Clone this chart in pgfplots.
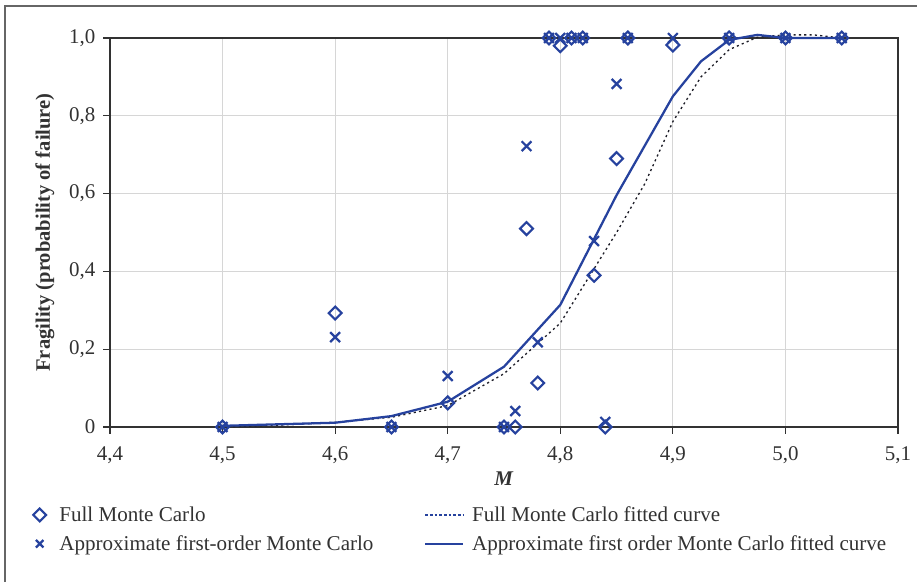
\documentclass[border=0pt]{standalone}
\usepackage{fontspec}
\setmainfont{Liberation Serif}
\usepackage{pgfplots}
\pgfplotsset{compat=1.18}

\definecolor{mcblue}{RGB}{38,66,158}
\definecolor{gridgray}{RGB}{214,214,214}
\definecolor{axisgray}{RGB}{50,50,50}
\definecolor{textgray}{RGB}{50,50,50}
\definecolor{fitdark}{RGB}{30,30,40}

% legend samples: a short line for the fitted curves, a single padded mark for the estimates
\pgfplotsset{
  fitline legend/.style={
    legend image code/.code={\draw[##1] (0pt,0pt) -- (28.5pt,0pt);}},
  mark legend/.style={
    legend image code/.code={\draw[##1, draw=none] plot coordinates {(0pt,0pt)};
      \path[draw=none, fill=none] (0pt,0pt) -- (9pt,0pt);}},
  diamondmark/.style={mark=square, mark size=3.4pt, mark options={rotate=45}},
}

% Full Monte Carlo estimates
\pgfplotstableread{
M p
4.50 0
4.60 0.293
4.65 0
4.70 0.062
4.75 0
4.76 0
4.77 0.510
4.78 0.113
4.79 1.0
4.80 0.980
4.81 1.0
4.82 1.0
4.83 0.390
4.84 0
4.85 0.690
4.86 1.0
4.90 0.982
4.95 1.0
5.00 1.0
5.05 1.0
}\fullmc

% Approximate first-order Monte Carlo estimates
\pgfplotstableread{
M p
4.50 0
4.60 0.231
4.65 0
4.70 0.131
4.75 0
4.76 0.041
4.77 0.722
4.78 0.218
4.79 1.0
4.80 1.0
4.81 1.0
4.82 1.0
4.83 0.478
4.84 0.013
4.85 0.882
4.86 1.0
4.90 1.0
4.95 1.0
5.00 1.0
5.05 1.0
}\approxmc

% Fitted curve, full Monte Carlo
\pgfplotstableread{
M p
4.50 0.000
4.55 0.005
4.60 0.012
4.65 0.025
4.70 0.055
4.75 0.137
4.80 0.267
4.85 0.500
4.875 0.625
4.90 0.785
4.925 0.900
4.95 0.970
4.975 1.002
5.00 1.008
5.025 1.008
5.05 1.000
}\fullfit

% Fitted curve, approximate first-order Monte Carlo
\pgfplotstableread{
M p
4.50 0.003
4.55 0.007
4.60 0.011
4.65 0.028
4.70 0.065
4.75 0.155
4.80 0.314
4.85 0.596
4.90 0.850
4.925 0.940
4.95 0.995
4.975 1.008
5.00 1.000
5.05 1.000
}\approxfit

\begin{document}
\begin{tikzpicture}
\path[use as bounding box] (0pt,0pt) rectangle (687.75pt,436.5pt);
\draw[gray!80!black, line width=1pt] (3.75pt,0pt) -- (3.75pt,432pt) -- (687.75pt,432pt);
\begin{axis}[
  at={(82.5pt,116.25pt)}, anchor=south west,
  scale only axis, width=591pt, height=291.75pt,
  xmin=4.4, xmax=5.1, ymin=0, ymax=1,
  xtick={4.4,4.5,4.6,4.7,4.8,4.9,5.0,5.1},
  xticklabels={{4,4},{4,5},{4,6},{4,7},{4,8},{4,9},{5,0},{5,1}},
  ytick={0,0.2,0.4,0.6,0.8,1},
  yticklabels={{0},{0,2},{0,4},{0,6},{0,8},{1,0}},
  xtick pos=bottom, ytick pos=left, tick align=outside,
  major tick length=5pt,
  grid=major, major grid style={gridgray, line width=0.8pt},
  axis line style={axisgray, line width=0.9pt},
  tick style={axisgray, line width=0.9pt},
  ticklabel style={font=\fontsize{15.7}{18}\selectfont, text=textgray},
  xticklabel style={yshift=-6pt},
  yticklabel style={xshift=-2.5pt},
  xlabel={\textbf{\textit{M}}},
  xlabel style={at={(axis description cs:0.5,-0.134)}, anchor=center,
    font=\fontsize{15.7}{18}\selectfont, text=textgray},
  ylabel={\textbf{Fragility (probability of failure)}},
  ylabel style={at={(axis description cs:-0.0825,0.5)}, anchor=center,
    font=\fontsize{15.4}{18}\selectfont, text=textgray},
  clip=false,
  legend columns=2,
  legend cell align=left,
  legend style={at={(-0.1028,-0.19)}, anchor=north west, draw=none, fill=none,
    font=\fontsize{15.8}{18}\selectfont, text=textgray,
    row sep=5pt,
    /tikz/every odd column/.append style={column sep=3.75pt},
    /tikz/every even column/.append style={column sep=36pt}},
]
\addlegendimage{mark legend, only marks, diamondmark, mcblue, line width=1.6pt}
\addlegendentry{Full Monte Carlo}
\addlegendimage{fitline legend, mcblue, line width=1.3pt, dash pattern=on 2pt off 1.5pt}
\addlegendentry{Full Monte Carlo fitted curve}
\addlegendimage{mark legend, only marks, mark=x, mark size=4pt, mcblue, line width=1.7pt}
\addlegendentry{Approximate first-order Monte Carlo}
\addlegendimage{fitline legend, mcblue, line width=1.7pt}
\addlegendentry{Approximate first order Monte Carlo fitted curve}

\addplot[forget plot, fitdark, line width=1pt, dash pattern=on 1.6pt off 2.4pt]
  table[x=M, y=p] {\fullfit};
\addplot[forget plot, mcblue, line width=1.7pt] table[x=M, y=p] {\approxfit};
\addplot[forget plot, only marks, mark=x, mark size=5.2pt, mcblue, line width=1.7pt]
  table[x=M, y=p] {\approxmc};
\addplot[forget plot, only marks, diamondmark, mcblue, line width=1.6pt]
  table[x=M, y=p] {\fullmc};
\end{axis}
\end{tikzpicture}
\end{document}
